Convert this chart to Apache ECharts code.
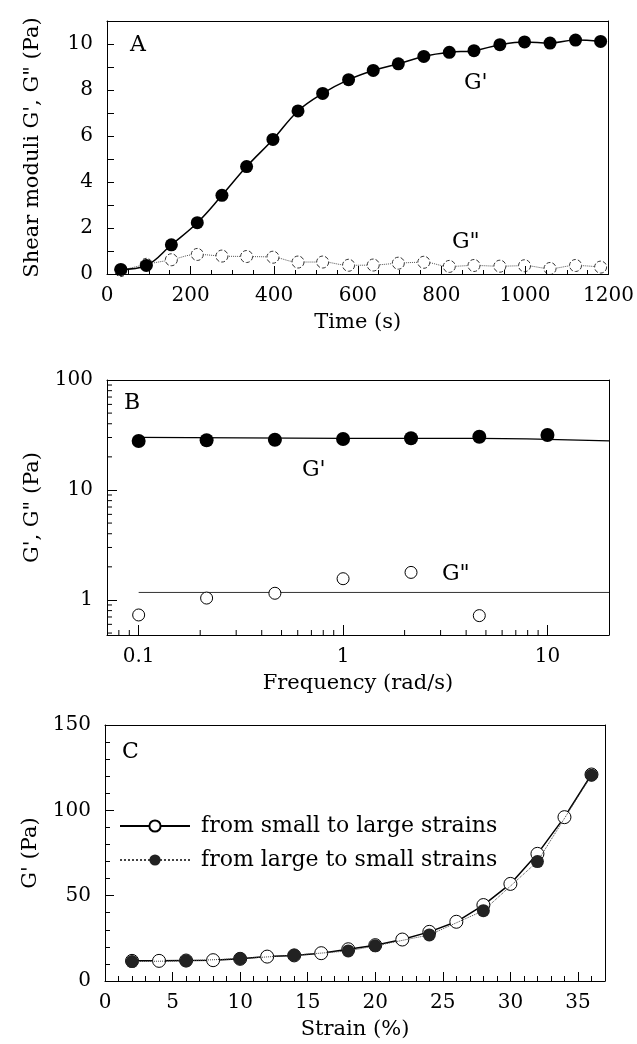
<!DOCTYPE html>
<html>
<head>
<meta charset="utf-8">
<script src="https://cdn.jsdelivr.net/npm/echarts/dist/echarts.min.js"></script>
<style>
html,body{margin:0;padding:0;background:#fff;}
#chart{width:637px;height:1044px;}
</style>
</head>
<body>
<div id="chart"></div>
<script>
// ---------- Panel A : gelation kinetics ----------
const timeA = [33, 94, 154, 216, 275, 334, 397, 457, 516, 578, 637, 697, 758, 819, 878, 940, 999, 1060, 1121, 1181];
const gPrimeA = [0.2, 0.37, 1.27, 2.23, 3.42, 4.67, 5.85, 7.09, 7.85, 8.45, 8.85, 9.14, 9.46, 9.64, 9.71, 9.97, 10.09, 10.04, 10.17, 10.11];
const gDoubleA = [0.15, 0.42, 0.62, 0.85, 0.78, 0.76, 0.73, 0.52, 0.52, 0.38, 0.39, 0.47, 0.51, 0.33, 0.37, 0.34, 0.36, 0.24, 0.37, 0.3];

// ---------- Panel B : frequency sweep ----------
const freqB = [0.1, 0.215, 0.464, 1, 2.15, 4.64, 10];
const gPrimeB = [27.9, 28.3, 28.6, 29.1, 29.5, 30.5, 31.6];
const freqB2 = [0.1, 0.215, 0.464, 1, 2.15, 4.64];
const gDoubleB = [0.73, 1.04, 1.15, 1.56, 1.78, 0.72];
const fitFreqB = [0.1, 1, 4.64, 10, 20];
const fitGPrimeB = [30.1, 29.5, 29.5, 28.9, 27.9];
const fitFreqB2 = [0.1, 20];
const fitGDoubleB = [1.17, 1.17];
const minorXB = [0.08, 0.09, 0.2, 0.3, 0.4, 0.5, 0.6, 0.7, 0.8, 0.9, 2, 3, 4, 5, 6, 7, 8, 9];
const minorYB = [0.5, 0.6, 0.7, 0.8, 0.9, 2, 3, 4, 5, 6, 7, 8, 9, 20, 30, 40, 50, 60, 70, 80, 90];

// ---------- Panel C : strain sweep ----------
const strainUp = [2, 4, 6, 8, 10, 12, 14, 16, 18, 20, 22, 24, 26, 28, 30, 32, 34, 36];
const gUp = [11.8, 11.8, 12.0, 12.2, 13.0, 14.3, 15.0, 16.3, 18.6, 21.0, 24.3, 28.8, 34.7, 44.5, 56.9, 74.5, 96.0, 121];
const strainDown = [2, 6, 10, 14, 18, 20, 24, 28, 32, 36];
const gDown = [11.4, 11.8, 13.1, 15.1, 17.6, 20.6, 27.0, 41.2, 70.0, 120.6];
const nameUp = 'from small to large strains';
const nameDown = 'from large to small strains';

const FONT = 'DejaVu Serif';
const pair = (xs, ys) => xs.map((x, i) => [x, ys[i]]);
const bXMin = 0.07, bXMax = 20, bYMin = 0.48, bYMax = 100;

const labelStyle = {color: '#000', fontFamily: FONT, fontSize: 20};
const nameStyle = {color: '#000', fontFamily: FONT, fontSize: 21};
const lineAx = {show: true, onZero: false, lineStyle: {color: '#000', width: 1}};
const isPow10 = v => Math.abs(Math.log10(v) - Math.round(Math.log10(v))) < 1e-6;

function tick(len) {
  return {show: true, inside: true, length: len, lineStyle: {color: '#000', width: 1}};
}
function frameX(grid, type, min, max) {
  return {gridIndex: grid, type: type, min: min, max: max, position: 'top', z: 6,
    axisLine: lineAx, axisTick: {show: false}, axisLabel: {show: false}, splitLine: {show: false}};
}
function frameY(grid, type, min, max) {
  return {gridIndex: grid, type: type, min: min, max: max, position: 'right', z: 6,
    axisLine: lineAx, axisTick: {show: false}, axisLabel: {show: false}, splitLine: {show: false}};
}

function minorTicks(xi, yi, values, dir) {
  return {
    type: 'custom', coordinateSystem: 'cartesian2d', xAxisIndex: xi, yAxisIndex: yi,
    silent: true, clip: false, z: 10,
    data: values.map(v => dir === 'x' ? [v, bYMin] : [bXMin, v]),
    renderItem: function (params, api) {
      const p = api.coord([api.value(0), api.value(1)]);
      const shape = dir === 'x'
        ? {x1: p[0], y1: p[1], x2: p[0], y2: p[1] - 5}
        : {x1: p[0], y1: p[1], x2: p[0] + 5, y2: p[1]};
      return {type: 'line', shape: shape, style: {stroke: '#000', lineWidth: 1}};
    }
  };
}

const chart = echarts.init(document.getElementById('chart'), null, {renderer: 'canvas'});
const option = {
  backgroundColor: '#fff',
  animation: false,
  textStyle: {fontFamily: FONT},
  grid: [
    {left: 107, top: 21, width: 502, height: 253, show: false},
    {left: 107, top: 380, width: 502, height: 255, show: false},
    {left: 105, top: 725, width: 500, height: 256, show: false}
  ],
  legend: {
    data: [nameUp, nameDown],
    orient: 'vertical', left: 114, top: 810,
    itemWidth: 70, itemHeight: 14, itemGap: 12,
    textStyle: {color: '#000', fontFamily: FONT, fontSize: 22, padding: [0, 0, 0, 6]}
  },
  xAxis: [
    {gridIndex: 0, type: 'value', min: 0, max: 1200, interval: 200, position: 'bottom', z: 6,
     axisLine: lineAx, axisTick: tick(8),
     minorTick: {show: true, splitNumber: 4, length: 4, lineStyle: {color: '#000', width: 1}},
     splitLine: {show: false}, axisLabel: Object.assign({margin: 12, formatter: v => String(v)}, labelStyle),
     name: 'Time (s)', nameLocation: 'middle', nameGap: 38, nameTextStyle: nameStyle},
    {gridIndex: 1, type: 'log', logBase: 10, min: bXMin, max: bXMax, position: 'bottom', z: 6,
     axisLine: lineAx, axisTick: tick(10),
     splitLine: {show: false},
     axisLabel: Object.assign({margin: 12, showMinLabel: false, showMaxLabel: false,
       formatter: v => isPow10(v) ? String(Number(v.toPrecision(3))) : ''}, labelStyle),
     name: 'Frequency (rad/s)', nameLocation: 'middle', nameGap: 38, nameTextStyle: nameStyle},
    {gridIndex: 2, type: 'value', min: 0, max: 37, interval: 5, position: 'bottom', z: 6,
     axisLine: lineAx, axisTick: tick(9),
     splitLine: {show: false},
     axisLabel: Object.assign({margin: 12, showMaxLabel: false,
       formatter: v => (v % 5 === 0 ? String(v) : '')}, labelStyle),
     name: 'Strain (%)', nameLocation: 'middle', nameGap: 38, nameTextStyle: nameStyle},
    {gridIndex: 2, type: 'value', min: 0, max: 37, interval: 1, position: 'bottom', z: 6,
     axisLine: {show: false}, axisTick: tick(5),
     splitLine: {show: false}, axisLabel: {show: false}},
    frameX(0, 'value', 0, 1200),
    frameX(1, 'log', bXMin, bXMax),
    frameX(2, 'value', 0, 37)
  ],
  yAxis: [
    {gridIndex: 0, type: 'value', min: 0, max: 11, interval: 1, position: 'left', z: 6,
     axisLine: lineAx, axisTick: tick(7),
     splitLine: {show: false},
     axisLabel: Object.assign({margin: 14, formatter: v => (v % 2 === 0 ? String(v) : '')}, labelStyle),
     name: 'Shear moduli G\', G" (Pa)', nameLocation: 'middle', nameRotate: 90, nameGap: 64, nameTextStyle: nameStyle},
    {gridIndex: 1, type: 'log', logBase: 10, min: bYMin, max: bYMax, position: 'left', z: 6,
     axisLine: lineAx, axisTick: tick(10),
     splitLine: {show: false},
     axisLabel: Object.assign({margin: 14, showMinLabel: false,
       formatter: v => isPow10(v) ? String(Number(v.toPrecision(3))) : ''}, labelStyle),
     name: 'G\', G" (Pa)', nameLocation: 'middle', nameRotate: 90, nameGap: 64, nameTextStyle: nameStyle},
    {gridIndex: 2, type: 'value', min: 0, max: 150, interval: 50, position: 'left', z: 6,
     axisLine: lineAx, axisTick: tick(9),
     minorTick: {show: true, splitNumber: 5, length: 5, lineStyle: {color: '#000', width: 1}},
     splitLine: {show: false}, axisLabel: Object.assign({margin: 14}, labelStyle),
     name: 'G\' (Pa)', nameLocation: 'middle', nameRotate: 90, nameGap: 64, nameTextStyle: nameStyle},
    frameY(0, 'value', 0, 11),
    frameY(1, 'log', bYMin, bYMax),
    frameY(2, 'value', 0, 150)
  ],
  series: [
    {name: 'G" A', type: 'line', xAxisIndex: 0, yAxisIndex: 0, data: pair(timeA, gDoubleA),
     smooth: 0.4, symbol: 'circle', symbolSize: 12, z: 2,
     lineStyle: {color: '#555', width: 1, type: 'dotted'},
     itemStyle: {color: '#fff', borderColor: '#333', borderWidth: 1, borderType: 'dashed', opacity: 1}},
    {name: 'G\' A', type: 'line', xAxisIndex: 0, yAxisIndex: 0, data: pair(timeA, gPrimeA),
     smooth: 0.4, symbol: 'circle', symbolSize: 13, z: 3,
     lineStyle: {color: '#000', width: 1.5}, itemStyle: {color: '#000', opacity: 1}},
    {name: 'G\' fit B', type: 'line', xAxisIndex: 1, yAxisIndex: 1, data: pair(fitFreqB, fitGPrimeB),
     smooth: true, symbol: 'none', lineStyle: {color: '#000', width: 1.2}, z: 2},
    {name: 'G" fit B', type: 'line', xAxisIndex: 1, yAxisIndex: 1, data: pair(fitFreqB2, fitGDoubleB),
     symbol: 'none', lineStyle: {color: '#333', width: 1}, z: 2},
    {name: 'G\' B', type: 'scatter', xAxisIndex: 1, yAxisIndex: 1, data: pair(freqB, gPrimeB),
     symbol: 'circle', symbolSize: 14, itemStyle: {color: '#000', opacity: 1}, z: 3},
    {name: 'G" B', type: 'scatter', xAxisIndex: 1, yAxisIndex: 1, data: pair(freqB2, gDoubleB),
     symbol: 'circle', symbolSize: 12, itemStyle: {color: '#fff', borderColor: '#000', borderWidth: 1, opacity: 1}, z: 3},
    minorTicks(1, 1, minorXB, 'x'),
    minorTicks(1, 1, minorYB, 'y'),
    {name: nameDown, type: 'line', xAxisIndex: 2, yAxisIndex: 2, data: pair(strainDown, gDown),
     symbol: 'circle', symbolSize: 13, z: 4,
     lineStyle: {color: '#444', width: 1, type: 'dotted'}, itemStyle: {color: '#222', opacity: 1}},
    {name: nameUp, type: 'line', xAxisIndex: 2, yAxisIndex: 2, data: pair(strainUp, gUp),
     symbol: 'circle', symbolSize: 13, z: 3,
     lineStyle: {color: '#000', width: 1.5}, itemStyle: {color: '#fff', borderColor: '#000', borderWidth: 1, opacity: 1}}
  ],
  graphic: [
    {type: 'text', left: 130, top: 34, style: {text: 'A', font: '22px "DejaVu Serif"', fill: '#000'}},
    {type: 'text', left: 464, top: 72, style: {text: "G'", font: '22px "DejaVu Serif"', fill: '#000'}},
    {type: 'text', left: 452, top: 231, style: {text: 'G"', font: '22px "DejaVu Serif"', fill: '#000'}},
    {type: 'text', left: 124, top: 392, style: {text: 'B', font: '22px "DejaVu Serif"', fill: '#000'}},
    {type: 'text', left: 302, top: 459, style: {text: "G'", font: '22px "DejaVu Serif"', fill: '#000'}},
    {type: 'text', left: 442, top: 563, style: {text: 'G"', font: '22px "DejaVu Serif"', fill: '#000'}},
    {type: 'text', left: 122, top: 741, style: {text: 'C', font: '22px "DejaVu Serif"', fill: '#000'}}
  ]
};
chart.setOption(option);
</script>
</body>
</html>
